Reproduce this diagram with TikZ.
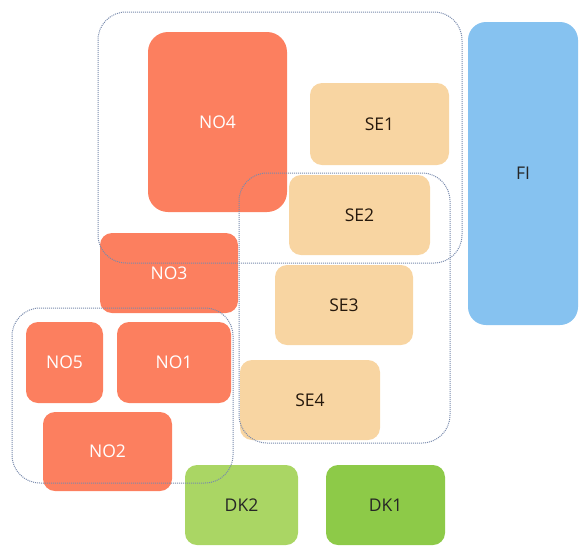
\documentclass[tikz,border=0pt]{standalone}
\usepackage{fontspec}
\setmainfont{Open Sans}
\definecolor{nored}{RGB}{252,127,95}
\definecolor{sepeach}{RGB}{248,213,162}
\definecolor{fiblue}{RGB}{134,194,240}
\definecolor{dklight}{RGB}{170,214,100}
\definecolor{dkgreen}{RGB}{141,202,72}
\definecolor{grpline}{RGB}{120,138,172}
\begin{document}
\begin{tikzpicture}
[x=1pt,y=-1pt,
 box/.style = {rounded corners=12pt, inner sep=0pt, outer sep=0pt, font=\fontsize{17.5}{20}\selectfont},
 nobox/.style = {box, fill=nored, text=white},
 sebox/.style = {box, fill=sepeach, text=black!80!brown},
 fibox/.style = {box, fill=fiblue, text=black!85},
 dkbox/.style = {box, text=black!85},
 grp/.style = {draw=grpline, densely dotted, line width=1pt, rounded corners=28pt},]
\useasboundingbox (0,0) rectangle (579,547);
\node (NO4) at (217.5,122)[nobox, rounded corners=20pt, minimum width=139, minimum height=180] {NO4};
\node (SE1) at (379.5,124)[sebox, minimum width=139, minimum height=82] {SE1};
\node (SE2) at (359.5,215)[sebox, minimum width=141, minimum height=80] {SE2};
\node (SE3) at (344,305)[sebox, minimum width=138, minimum height=80] {SE3};
\node (SE4) at (310,400)[sebox, minimum width=140, minimum height=80] {SE4};
\node (NO3) at (169,273)[nobox, minimum width=138, minimum height=80] {NO3};
\node (NO5) at (64.5,362.5)[nobox, minimum width=77, minimum height=81] {NO5};
\node (NO1) at (174,362.5)[nobox, minimum width=114, minimum height=81] {NO1};
\node (NO2) at (107.5,451.5)[nobox, minimum width=129, minimum height=79] {NO2};
\node (DK2) at (241.5,505)[dkbox, fill=dklight, minimum width=113, minimum height=80] {DK2};
\node (DK1) at (385.5,505)[dkbox, fill=dkgreen, minimum width=119, minimum height=80] {DK1};
\node (FI) at (523,173.5)[fibox, rounded corners=18pt, minimum width=110, minimum height=303] {FI};

\draw[grp] (98,12) rectangle (462,263);
\draw[grp] (239,173) rectangle (450,443);
\draw[grp] (12,308) rectangle (233,483);

\end{tikzpicture}
\end{document}
